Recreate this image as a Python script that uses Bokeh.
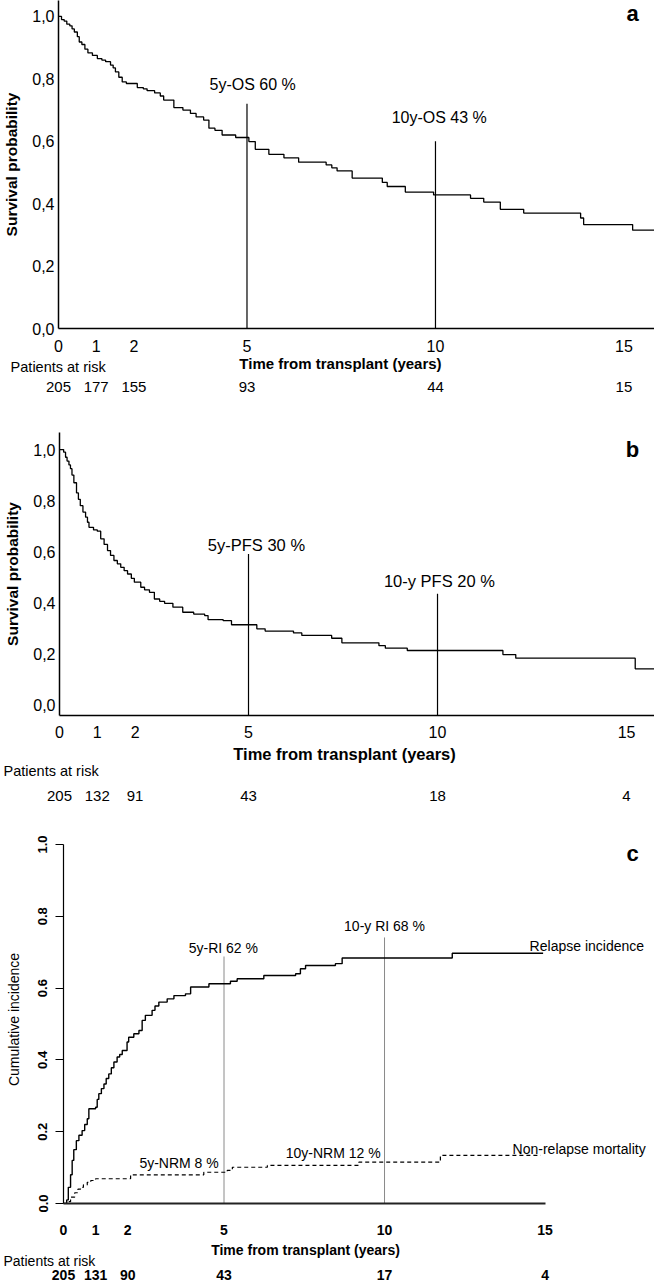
from bokeh.plotting import figure
from bokeh.layouts import column
from bokeh.models import Range1d, FixedTicker, Label, LabelSet, ColumnDataSource
from bokeh.core.properties import value
from bokeh.embed import file_html
from bokeh.resources import INLINE

FONT = "Liberation Sans"
W = 654

# ---------------- data ----------------
x_ticks = [0, 1, 2, 5, 10, 15]
y_ticks = [0.0, 0.2, 0.4, 0.6, 0.8, 1.0]
y_labels_comma = ["0,0", "0,2", "0,4", "0,6", "0,8", "1,0"]
y_labels_dot = ["0.0", "0.2", "0.4", "0.6", "0.8", "1.0"]

risk_times = [0, 1, 2, 5, 10, 15]
risk_os = [205, 177, 155, 93, 44, 15]
risk_pfs = [205, 132, 91, 43, 18, 4]
risk_ci = [205, 131, 90, 43, 17, 4]

# Panel a: overall survival (Kaplan-Meier steps)
os_t = [0, 0.08, 0.15, 0.22, 0.30, 0.36, 0.42, 0.50, 0.55, 0.62, 0.70, 0.78, 0.90,
        1.03, 1.15, 1.25, 1.38, 1.45, 1.51, 1.60, 1.69, 1.80, 2.09, 2.25, 2.35,
        2.55, 2.70, 2.79, 3.06, 3.30, 3.50, 3.65, 3.85, 3.99, 4.15, 4.34, 4.70,
        5.05, 5.22, 5.58, 5.98, 6.37, 7.10, 7.25, 7.39, 7.79, 8.59, 8.72, 9.20,
        9.95, 10.93, 11.28, 11.72, 12.34, 13.85, 13.93, 15.23, 15.81]
os_s = [1.0, 0.99, 0.985, 0.975, 0.97, 0.96, 0.95, 0.935, 0.918, 0.91, 0.895, 0.883, 0.875,
        0.865, 0.86, 0.855, 0.844, 0.835, 0.822, 0.805, 0.790, 0.785, 0.772, 0.768, 0.762,
        0.755, 0.745, 0.732, 0.708, 0.70, 0.689, 0.678, 0.668, 0.642, 0.635, 0.620, 0.612,
        0.599, 0.574, 0.558, 0.547, 0.533, 0.524, 0.515, 0.505, 0.482, 0.468, 0.455, 0.437,
        0.428, 0.417, 0.405, 0.382, 0.370, 0.354, 0.333, 0.315, 0.315]
os_marks_x = [5, 10]
os_marks_top = [0.72, 0.60]

# Panel b: progression-free survival
pfs_t = [0, 0.11, 0.16, 0.20, 0.25, 0.29, 0.33, 0.38, 0.45, 0.50, 0.55, 0.62, 0.69, 0.74,
         0.78, 0.90, 1.00, 1.09, 1.18, 1.27, 1.35, 1.44, 1.53, 1.62, 1.71, 1.80, 1.90,
         1.98, 2.15, 2.25, 2.38, 2.51, 2.65, 2.78, 3.00, 3.26, 3.55, 3.84, 3.93, 4.33,
         4.55, 5.22, 5.44, 6.19, 6.41, 7.20, 7.47, 8.45, 8.62, 9.20, 11.73, 12.07, 15.23, 15.74]
pfs_s = [1.0, 0.99, 0.97, 0.955, 0.94, 0.925, 0.90, 0.87, 0.83, 0.805, 0.78, 0.755, 0.735, 0.715,
         0.695, 0.685, 0.68, 0.65, 0.628, 0.604, 0.585, 0.565, 0.552, 0.538, 0.525, 0.512, 0.495,
         0.48, 0.46, 0.45, 0.44, 0.414, 0.405, 0.397, 0.382, 0.362, 0.355, 0.349, 0.333, 0.329,
         0.313, 0.297, 0.288, 0.281, 0.271, 0.26, 0.242, 0.231, 0.221, 0.212, 0.196, 0.182, 0.14, 0.14]
pfs_marks_x = [5, 10]
pfs_marks_top = [0.59, 0.435]

# Panel c: cumulative incidence of relapse and non-relapse mortality
ri_t = [0, 0.10, 0.15, 0.22, 0.27, 0.32, 0.40, 0.48, 0.58, 0.66, 0.74, 0.79, 1.00, 1.05,
        1.10, 1.18, 1.26, 1.33, 1.41, 1.49, 1.57, 1.67, 1.75, 1.83, 1.98, 2.03, 2.19, 2.35,
        2.45, 2.55, 2.76, 2.85, 2.97, 3.23, 3.44, 3.80, 3.96, 4.53, 5.20, 5.41, 6.24, 7.23,
        7.38, 7.54, 8.47, 8.68, 12.11, 14.94]
ri_s = [0, 0.01, 0.045, 0.08, 0.12, 0.15, 0.175, 0.19, 0.203, 0.22, 0.236, 0.264, 0.268, 0.29,
        0.306, 0.32, 0.333, 0.348, 0.361, 0.378, 0.394, 0.408, 0.415, 0.426, 0.45, 0.463, 0.473, 0.482,
        0.51, 0.524, 0.538, 0.55, 0.561, 0.57, 0.579, 0.584, 0.603, 0.612, 0.619, 0.626, 0.635, 0.64,
        0.654, 0.663, 0.668, 0.684, 0.697, 0.697]
nrm_t = [0, 0.12, 0.22, 0.35, 0.45, 0.53, 0.62, 0.74, 0.85, 1.0, 2.09, 4.37, 5.10, 5.26,
         6.35, 9.20, 11.74, 14.86]
nrm_s = [0, 0.005, 0.018, 0.03, 0.04, 0.045, 0.052, 0.059, 0.064, 0.069, 0.08, 0.087, 0.092, 0.101,
         0.106, 0.115, 0.134, 0.134]
ci_marks_x = [5, 10]
ci_marks_top = [0.688, 0.741]


def base_fig(height, top, bottom, left, x_end, y_start, y_end):
    p = figure(width=W, height=height, x_range=Range1d(0, x_end),
               y_range=Range1d(y_start, y_end), output_backend="svg",
               toolbar_location=None, min_border_left=left, min_border_right=0,
               min_border_top=top, min_border_bottom=bottom)
    p.outline_line_color = None
    p.xgrid.grid_line_color = None
    p.ygrid.grid_line_color = None
    for ax in (p.xaxis[0], p.yaxis[0]):
        ax.major_label_text_font = FONT
        ax.axis_label_text_font = FONT
        ax.axis_label_text_font_style = "bold"
        ax.minor_tick_line_color = None
        ax.axis_line_color = "black"
        ax.major_label_text_color = "black"
        ax.axis_label_text_color = "black"
    p.xaxis[0].ticker = FixedTicker(ticks=x_ticks)
    p.yaxis[0].ticker = FixedTicker(ticks=y_ticks)
    return p


def risk_fig(height, left, x_end):
    # strip under a panel, sharing the panel's horizontal scale; y = pixels from top
    x_start = -left * x_end / (W - left)
    p = figure(width=W, height=height, x_range=Range1d(x_start, x_end),
               y_range=Range1d(height, 0), output_backend="svg",
               toolbar_location=None, x_axis_location=None, y_axis_location=None,
               min_border_left=0, min_border_right=0, min_border_top=0,
               min_border_bottom=0)
    p.outline_line_color = None
    p.xgrid.grid_line_color = None
    p.ygrid.grid_line_color = None
    return p


def txt(p, x, y, s, size, align="center", style="normal"):
    p.add_layout(Label(x=x, y=y, text=s, text_font=FONT, text_font_size=size,
                       text_align=align, text_baseline="middle", text_font_style=style,
                       text_color="black"))


def label_row(p, xs, labels, y, size, style="normal"):
    src = ColumnDataSource(dict(t=xs, y=[y] * len(xs), n=[str(c) for c in labels]))
    p.add_layout(LabelSet(x="t", y="y", text="n", source=src, text_font=value(FONT),
                          text_font_size=value(size), text_align="center",
                          text_baseline="middle", text_font_style=style,
                          text_color="black"))


def km_axes(p, x_standoff):
    xa, ya = p.xaxis[0], p.yaxis[0]
    for ax in (xa, ya):
        ax.major_tick_out = 0
        ax.major_tick_in = 0
        ax.axis_line_width = 1.5
        ax.major_label_text_font_size = "16px"
    ya.major_label_overrides = {t: l for t, l in zip(y_ticks, y_labels_comma)}
    ya.major_label_standoff = 4
    ya.axis_label = "Survival probability"
    ya.axis_label_text_font_size = "15.5px"
    ya.axis_label_standoff = 9
    xa.major_label_standoff = x_standoff


# ---------------- panel a ----------------
A_LEFT, A_XEND = 58, 15.81
pa = base_fig(354, 0, 25, A_LEFT, A_XEND, 0, 1.051)
km_axes(pa, 11)
pa.step(os_t, os_s, mode="after", line_color="black", line_width=1.3)
pa.segment(x0=os_marks_x, y0=[0, 0], x1=os_marks_x, y1=os_marks_top,
           line_color="black", line_width=1.2)
txt(pa, 5.15, 0.783, "5y-OS 60 %", "16px")
txt(pa, 10.1, 0.677, "10y-OS 43 %", "16px")
txt(pa, 15.23, 1.008, "a", "22px", style="bold")

ra = risk_fig(46, A_LEFT, A_XEND)
txt(ra, 7.48, 9, "Time from transplant (years)", "15px", style="bold")
txt(ra, -1.27, 12, "Patients at risk", "14.5px", align="left")
label_row(ra, risk_times, risk_os, 32, "15px")

# ---------------- panel b ----------------
B_LEFT, B_XEND = 59, 15.74
pb = base_fig(342, 32, 27, B_LEFT, B_XEND, -0.043, 1.067)
km_axes(pb, 10)
pb.step(pfs_t, pfs_s, mode="after", line_color="black", line_width=1.3)
pb.segment(x0=pfs_marks_x, y0=[-0.043, -0.043], x1=pfs_marks_x, y1=pfs_marks_top,
           line_color="black", line_width=1.2)
txt(pb, 5.21, 0.624, "5y-PFS 30 %", "16.5px")
txt(pb, 10.05, 0.486, "10-y PFS 20 %", "16.5px")
txt(pb, 15.16, 1.0, "b", "22px", style="bold")

rb = risk_fig(68, B_LEFT, B_XEND)
txt(rb, 7.54, 11, "Time from transplant (years)", "16.5px", style="bold")
txt(rb, -1.48, 28, "Patients at risk", "14.5px", align="left")
label_row(rb, risk_times, risk_pfs, 53, "15px")

# ---------------- panel c ----------------
C_LEFT, C_XEND = 63, 18.41
pc = base_fig(403, 25, 10, C_LEFT, C_XEND, 0, 1.025)
xa, ya = pc.xaxis[0], pc.yaxis[0]
xa.ticker = FixedTicker(ticks=[])       # tick labels are drawn in the strip below
xa.bounds = (0, 15)
xa.axis_line_width = 2
xa.axis_line_color = "#222222"
xa.major_tick_out = 0
xa.major_tick_in = 0
xa.major_label_standoff = 0
ya.bounds = (0, 1)
ya.axis_line_width = 1.2
ya.major_tick_out = 8
ya.major_tick_in = 0
ya.major_tick_line_width = 1.2
ya.major_label_overrides = {t: l for t, l in zip(y_ticks, y_labels_dot)}
ya.major_label_orientation = "vertical"
ya.major_label_text_font_size = "13px"
ya.major_label_text_font_style = "bold"
ya.major_label_standoff = 8
ya.axis_label = "Cumulative incidence"
ya.axis_label_text_font_style = "normal"
ya.axis_label_text_font_size = "14px"
ya.axis_label_standoff = 14

pc.segment(x0=ci_marks_x, y0=[0, 0], x1=ci_marks_x, y1=ci_marks_top,
           line_color="#8a8a8a", line_width=1)
pc.step(ri_t, ri_s, mode="after", line_color="black", line_width=1.4)
pc.step(nrm_t, nrm_s, mode="after", line_color="black", line_width=1.2,
        line_dash="4 3")
txt(pc, 4.98, 0.713, "5y-RI 62 %", "14px")
txt(pc, 10.0, 0.774, "10-y RI 68 %", "14px")
txt(pc, 14.52, 0.716, "Relapse incidence", "14px", align="left")
txt(pc, 13.99, 0.153, "Non-relapse mortality", "14px", align="left")
txt(pc, 3.6, 0.114, "5y-NRM 8 %", "14px")
txt(pc, 8.4, 0.142, "10y-NRM 12 %", "14px")
txt(pc, 17.73, 0.975, "c", "22px", style="bold")

rc = risk_fig(70, C_LEFT, C_XEND)
label_row(rc, x_ticks, x_ticks, 16, "14px", style="bold")
txt(rc, 7.54, 36, "Time from transplant (years)", "14px", style="bold")
txt(rc, -1.87, 47, "Patients at risk", "14px", align="left")
label_row(rc, risk_times, risk_ci, 61, "14px", style="bold")

# each figure in its own box so that frames are not aligned to each other
layout = column(*[column(f) for f in (pa, ra, pb, rb, pc, rc)], spacing=0)
open("out.html", "w").write(file_html(layout, INLINE))
